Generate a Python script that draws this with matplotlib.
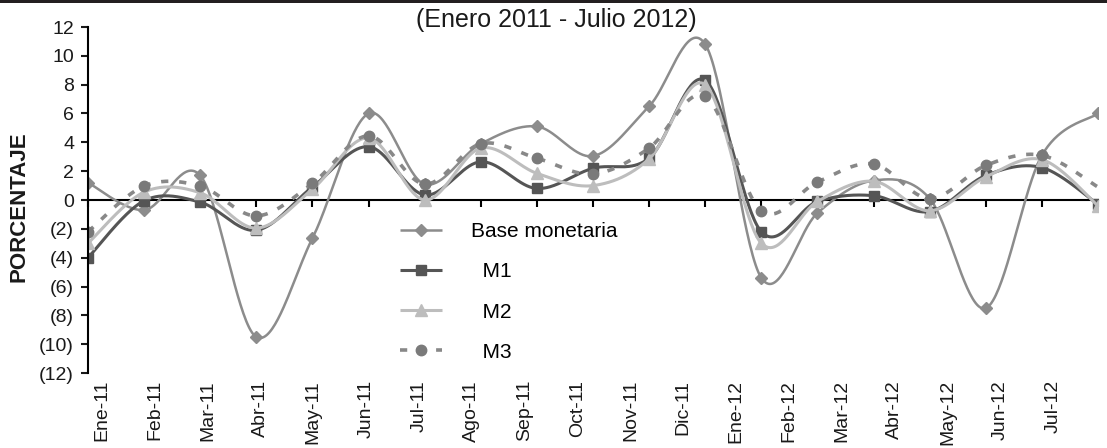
import numpy as np
import matplotlib
matplotlib.use("Agg")
import matplotlib.pyplot as plt
from matplotlib.patches import Rectangle
from matplotlib.ticker import FuncFormatter

plt.rcParams['font.family'] = ['Liberation Sans', 'DejaVu Sans']

# Monthly variation (%), January 2011 - July 2012
months = ["Ene-11", "Feb-11", "Mar-11", "Abr-11", "May-11", "Jun-11", "Jul-11",
          "Ago-11", "Sep-11", "Oct-11", "Nov-11", "Dic-11", "Ene-12", "Feb-12",
          "Mar-12", "Abr-12", "May-12", "Jun-12", "Jul-12"]
base_monetaria = [1.2, -0.7, 1.7, -9.5, -2.65, 6.0, 1.1, 3.9, 5.1, 3.05, 6.5,
                  10.8, -5.4, -0.9, 1.35, 0.1, -7.5, 3.1, 6.0]
m1 = [-4.0, -0.05, -0.15, -2.1, 0.9, 3.7, 0.35, 2.65, 0.8, 2.2, 2.9,
      8.3, -2.2, -0.1, 0.3, -0.8, 1.7, 2.25, -0.3]
m2 = [-3.0, 0.55, 0.5, -1.95, 0.75, 4.3, 0.0, 3.6, 1.85, 1.0, 2.85,
      8.0, -3.0, -0.1, 1.3, -0.75, 1.6, 2.8, -0.4]
m3 = [-2.2, 0.97, 0.97, -1.1, 1.15, 4.45, 1.1, 3.9, 2.9, 1.8, 3.6,
      7.2, -0.75, 1.25, 2.5, 0.1, 2.4, 3.1, 0.9]

yticks = list(range(-12, 13, 2))

N_SEG = 40


def smooth_curve(values, n=N_SEG):
    """Cubic Bezier (Catmull-Rom style) curve through each point."""
    pts = np.column_stack([np.arange(len(values), dtype=float),
                           np.asarray(values, dtype=float)])
    ext = np.vstack([pts[0], pts, pts[-1]])
    t = np.linspace(0.0, 1.0, n)[:, None]
    parts = []
    for i in range(len(pts) - 1):
        p0, p1, p2, p3 = ext[i], ext[i + 1], ext[i + 2], ext[i + 3]
        c1 = p1 + (p2 - p0) / 6.0
        c2 = p2 - (p3 - p1) / 6.0
        seg = ((1 - t) ** 3) * p1 + 3 * ((1 - t) ** 2) * t * c1 \
            + 3 * (1 - t) * (t ** 2) * c2 + (t ** 3) * p2
        parts.append(seg if i == 0 else seg[1:])
    curve = np.vstack(parts)
    return curve[:, 0], curve[:, 1]


W, H = 1107, 448
fig = plt.figure(figsize=(W / 100, H / 100), dpi=100)
ax = fig.add_axes([88 / W, 75 / H, 1010 / W, 346 / H])

# top rule
fig.add_artist(Rectangle((0, 1 - 3.5 / H), 1, 3.5 / H, transform=fig.transFigure,
                         facecolor="#231f20", edgecolor="none"))

series = [
    ("Base monetaria", base_monetaria, dict(color="#8c8c8c", lw=1.8, marker="D", ms=6.5,
                                             mfc="#8c8c8c", mec="#8c8c8c")),
    ("  M1", m1, dict(color="#555555", lw=2.2, marker="s", ms=7,
                      mfc="#555555", mec="#555555")),
    ("  M2", m2, dict(color="#bdbdbd", lw=2.2, marker="^", ms=8,
                      mfc="#bdbdbd", mec="#bdbdbd")),
    ("  M3", m3, dict(color="#888888", lw=2.6, marker="o", ms=7.5,
                      mfc="#7a7a7a", mec="#7a7a7a", dashes=(2.0, 3.0))),
]

for label, vals, style in series:
    xs, ys = smooth_curve(vals)
    n_marks = len(vals) if label != "  M3" else len(vals) - 1
    ax.plot(xs, ys, label=label, markevery=[k * (N_SEG - 1) for k in range(n_marks)],
            solid_capstyle="butt", dash_capstyle="butt", **style)

ax.set_xlim(0, len(months) - 1)
ax.set_ylim(-12, 12)

for side in ("top", "right"):
    ax.spines[side].set_visible(False)
ax.spines["bottom"].set_position(("data", 0))
ax.spines["bottom"].set_linewidth(1.5)
ax.spines["left"].set_linewidth(1.5)
ax.spines["bottom"].set_zorder(1)

ax.set_xticks(range(len(months)))
ax.tick_params(axis="x", direction="out", length=5, width=1.5, labelbottom=False)
ax.set_yticks(yticks)
ax.yaxis.set_major_formatter(FuncFormatter(
    lambda v, p: f"({abs(int(v))})" if v < 0 else f"{int(v)}"))
ax.tick_params(axis="y", direction="out", length=5, width=1.5, pad=5,
               labelsize=14, colors="#1a1a1a")

# month labels along the bottom
ax2 = ax.twiny()
ax2.set_xlim(-0.265, 18.85)
ax2.xaxis.set_ticks_position("bottom")
ax2.set_xticks(range(len(months)))
ax2.set_xticklabels(months, rotation=90, fontsize=14, color="#1a1a1a")
ax2.tick_params(axis="x", length=0, pad=5)
for s in ax2.spines.values():
    s.set_visible(False)

fig.text(19 / W, 1 - 207 / H, "PORCENTAJE", rotation=90, ha="center", va="center",
         fontsize=16, fontweight="bold", color="#1a1a1a")
fig.text(556 / W, 1 - 20 / H, "(Enero 2011 - Julio 2012)", ha="center", va="center",
         fontsize=18, color="#1a1a1a")

leg = ax.legend(loc="upper left", bbox_to_anchor=(400 / W, 1 - 222 / H),
                bbox_transform=fig.transFigure, frameon=False, fontsize=15,
                borderpad=0, borderaxespad=0, handlelength=2.0, handletextpad=1.4,
                labelspacing=1.02, numpoints=1)

fig.savefig("out.png", dpi=100)
